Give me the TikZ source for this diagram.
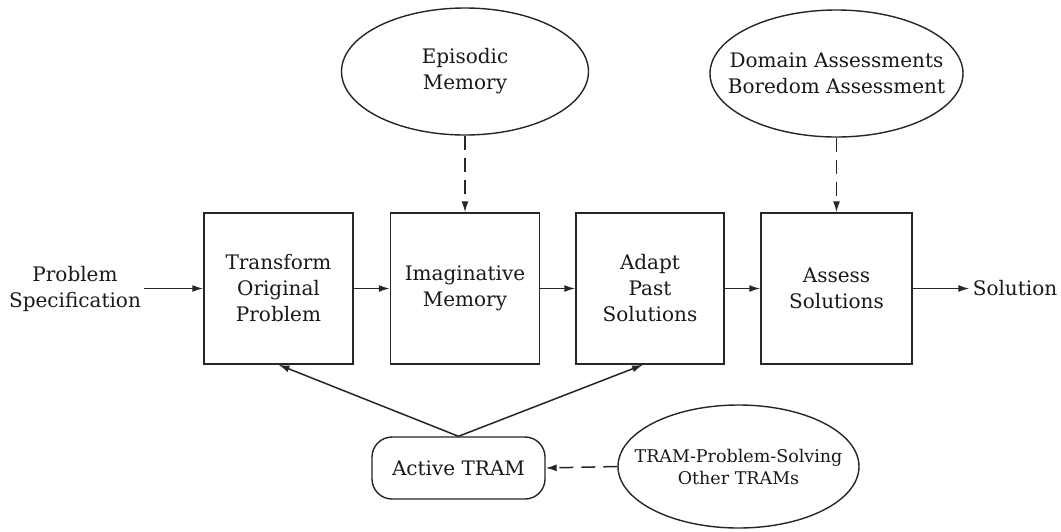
\documentclass[tikz,border=0pt]{standalone}
\usepackage{fontspec}
\setmainfont{DejaVu Serif}
\usetikzlibrary{shapes.geometric,arrows.meta}
\begin{document}
\begin{tikzpicture}[x=1pt,y=-1pt,
  every node/.style={font=\fontsize{20}{26}\selectfont, text=black!90, align=center},
  proc/.style={draw=black!85, line width=1.5pt, minimum width=149pt, minimum height=151pt, inner sep=0pt},
  oval/.style={draw=black!85, ellipse, line width=1.4pt, inner sep=0pt},
  flow/.style={draw=black!85, line width=1.5pt, -{Latex[length=11pt,width=7pt]}},
  dflow/.style={flow, dash pattern=on 14pt off 8pt}]
\useasboundingbox (0,0) rectangle (1061,531);
\fill[white] (0,0) rectangle (1061,531);
% process boxes
\node[proc] (trans) at (278.5,288.5) {Transform\\Original\\Problem};
\node[proc] (imag) at (465,288.5) {Imaginative\\Memory};
\node[proc, minimum width=148pt] (adapt) at (650,288.5) {Adapt\\Past\\Solutions};
\node[proc, minimum width=151pt] (assess) at (836.5,288.5) {Assess\\Solutions};
% labels
\node (spec) at (75,288.5) {Problem\\Specification};
\node (sol) at (1015,288.5) {Solution};
% ellipses (outline fixed in size, text set on top)
\node[oval, minimum width=247pt, minimum height=127pt] (epi) at (465,71.5) {};
\node (epitxt) at (epi.center) {Episodic\\Memory};
\node[oval, minimum width=253pt, minimum height=127pt] (dom) at (836.5,73.5) {};
\node (domtxt) at (dom.center) {Domain Assessments\\Boredom Assessment};
\node[oval, minimum width=241pt, minimum height=123pt] (tps) at (738.5,466.5) {};
\node[font=\fontsize{17.5}{22}\selectfont] (tpstxt) at (tps.center) {TRAM-Problem-Solving\\Other TRAMs};
% active TRAM
\node[draw=black!85, line width=1.4pt, rounded corners=20pt, minimum width=173pt, minimum height=62pt, inner sep=0pt] (act) at (458.5,468) {Active TRAM};
% connectors
\draw[flow] (spec.east) -- (trans.west);
\draw[flow] (trans.east) -- (imag.west);
\draw[flow] (imag.east) -- (adapt.west);
\draw[flow] (adapt.east) -- (assess.west);
\draw[flow] (assess.east) -- (sol.west);
\draw[dflow] (epi.south) -- (imag.north);
\draw[dflow] (dom.south) -- (assess.north);
\draw[dflow] (tps.west) -- (act.east);
\draw[flow] (act.north) -- (trans.south);
\draw[flow] (act.north) -- ([xshift=-7pt]adapt.south);
\end{tikzpicture}
\end{document}
